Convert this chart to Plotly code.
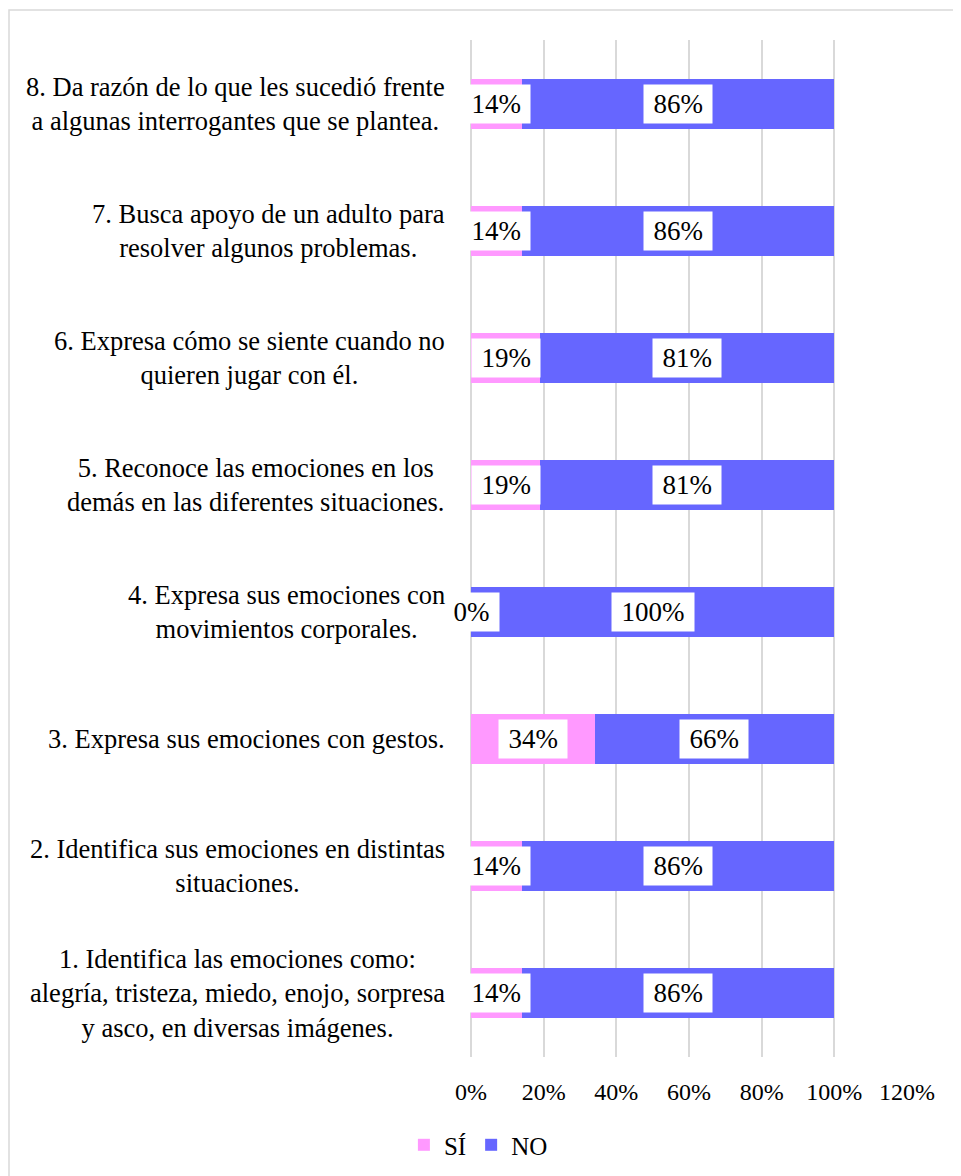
import plotly.graph_objects as go

labels = [
    "1. Identifica las emociones como:<br>alegría, tristeza, miedo, enojo, sorpresa<br>y asco, en diversas imágenes.",
    "2. Identifica sus emociones en distintas<br>situaciones.",
    "3. Expresa sus emociones con gestos.",
    "4. Expresa sus emociones con<br>movimientos corporales.",
    "5. Reconoce las emociones en los<br>demás en las diferentes situaciones.",
    "6. Expresa cómo se siente cuando no<br>quieren jugar con él.",
    "7. Busca apoyo de un adulto para<br>resolver algunos problemas.",
    "8. Da razón de lo que les sucedió frente<br>a algunas interrogantes que se plantea.",
]
si_values = [14, 14, 34, 0, 19, 19, 14, 14]
no_values = [86, 86, 66, 100, 81, 81, 86, 86]
x_ticks = [0, 20, 40, 60, 80, 100, 120]

FONT = "Liberation Serif"
PINK = "#FF99FF"
BLUE = "#6666FF"
TS = "\u2009"

fig = go.Figure()
fig.add_trace(go.Bar(y=labels, x=si_values, orientation="h", name="SÍ",
                     marker=dict(color=PINK, line=dict(width=0)), width=0.393,
                     hoverinfo="skip"))
fig.add_trace(go.Bar(y=labels, x=no_values, orientation="h", name="NO",
                     marker=dict(color=BLUE, line=dict(width=0)), width=0.393,
                     hoverinfo="skip"))

value_notes = []
cat_notes = []
for lab, s, n in zip(labels, si_values, no_values):
    value_notes.append(dict(x=s / 2, xref="x", y=lab, yref="y", text=f"{TS}{s}%{TS}",
                            showarrow=False, bgcolor="white", borderpad=4,
                            font=dict(family=FONT, size=27, color="black")))
    value_notes.append(dict(x=s + n / 2, xref="x", y=lab, yref="y", text=f"{TS}{n}%{TS}",
                            showarrow=False, bgcolor="white", borderpad=4,
                            font=dict(family=FONT, size=27, color="black")))
    cat_notes.append(dict(x=0, xref="paper", y=lab, yref="y", text=lab,
                          showarrow=False, xanchor="right", align="center",
                          xshift=-24, font=dict(family=FONT, size=26.5, color="black")))

fig.update_layout(
    width=953, height=1168,
    barmode="stack",
    paper_bgcolor="white", plot_bgcolor="white",
    margin=dict(l=463, r=54, t=32, b=119),
    font=dict(family=FONT, size=24, color="black"),
    xaxis=dict(range=[0, 120], tickvals=x_ticks, ticktext=[f"{v}%" for v in x_ticks],
               showgrid=True, gridcolor="#D9D9D9", gridwidth=1.5,
               zeroline=True, zerolinecolor="#D9D9D9", zerolinewidth=1.5,
               showline=False, ticks="", ticklabelstandoff=18,
               tickfont=dict(family=FONT, size=24, color="black")),
    yaxis=dict(type="category", categoryorder="array", categoryarray=labels,
               showticklabels=False, showgrid=False, zeroline=False, showline=False,
               range=[-0.5, 7.5]),
    legend=dict(orientation="h", xref="container", yref="container",
                x=0.4936, xanchor="center", y=0.0265, yanchor="middle",
                font=dict(family=FONT, size=25, color="black"),
                itemwidth=30, traceorder="normal"),
    annotations=value_notes + cat_notes,
    shapes=[dict(type="rect", xref="paper", yref="paper",
                 x0=(9 - 471) / 436, x1=(975 - 471) / 436,
                 y0=(1057 - 1190) / 1017, y1=(1057 - 10) / 1017,
                 line=dict(color="#D9D9D9", width=1.5), fillcolor="rgba(0,0,0,0)",
                 layer="below")],
)

fig.write_html("out.html")
